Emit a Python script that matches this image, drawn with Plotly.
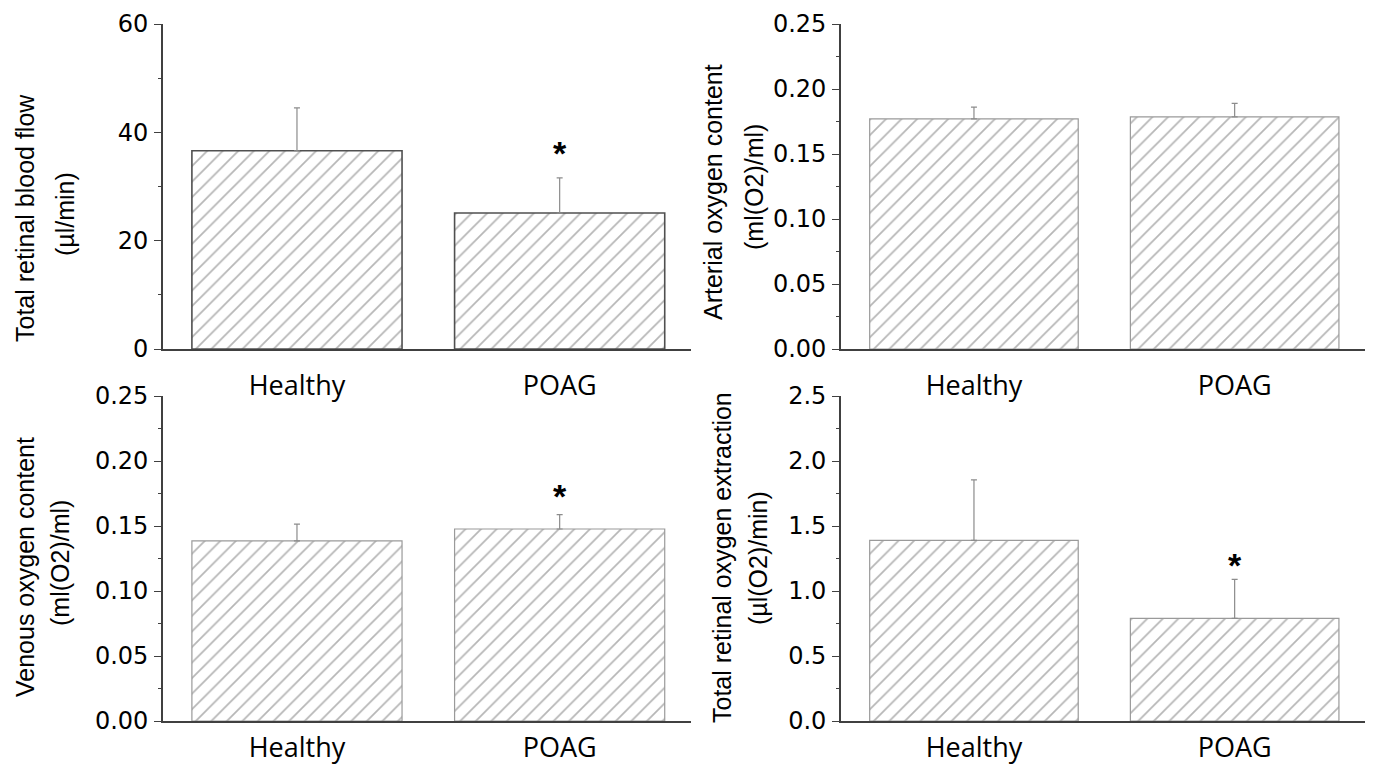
import plotly.graph_objects as go

# ---------------- data ----------------
categories = ["Healthy", "POAG"]

flow_mean = [36.6, 25.1]
flow_sd = [7.9, 6.5]

arterial_mean = [0.177, 0.1785]
arterial_sd = [0.009, 0.0105]

venous_mean = [0.1385, 0.1477]
venous_sd = [0.013, 0.011]

extraction_mean = [1.39, 0.79]
extraction_sd = [0.465, 0.30]

# significance markers (category, y position of the star)
flow_sig = ("POAG", 37.1)
venous_sig = ("POAG", 0.177)
extraction_sig = ("POAG", 1.238)

y_titles = [
    ("Total retinal blood flow", "(\u00b5l/min)"),
    ("Arterial oxygen content", "(ml(O2)/ml)"),
    ("Venous oxygen content", "(ml(O2)/ml)"),
    ("Total retinal oxygen extraction", "(\u00b5l(O2)/min)"),
]
y_ranges = [(0, 60), (0, 0.25), (0, 0.25), (0, 2.5)]
y_dticks = [20, 0.05, 0.05, 0.5]
y_formats = ["d", ".2f", ".2f", ".1f"]

# ---------------- figure ----------------
W, H = 1373, 769
OFF = 8  # page body margin
fig = go.Figure()

panels = [
    (flow_mean, flow_sd, "#505050", 1.6),
    (arterial_mean, arterial_sd, "#9a9a9a", 1.2),
    (venous_mean, venous_sd, "#9a9a9a", 1.2),
    (extraction_mean, extraction_sd, "#9a9a9a", 1.2),
]

for i, (mean, sd, lc, lw) in enumerate(panels):
    ax = "" if i == 0 else str(i + 1)
    fig.add_trace(go.Bar(
        x=categories, y=mean,
        xaxis="x" + ax, yaxis="y" + ax,
        width=0.8,
        marker=dict(
            color="white",
            line=dict(color=lc, width=lw),
            pattern=dict(shape="/", fgcolor="#6e6e6e", bgcolor="white",
                         size=11, solidity=0.16),
        ),
        error_y=dict(type="data", symmetric=False, array=sd,
                     arrayminus=[0] * len(sd),
                     color="#8c8c8c", thickness=1.2, width=3),
        showlegend=False,
    ))

# pixel geometry of plot areas (target screen pixels)
x_doms = [(163, 691), (841, 1365)]
y_doms = [(24, 349), (396, 721)]

def px(v):
    return (v - OFF) / W

def py(v):
    return 1 - (v - OFF) / H

tick_font = dict(family="DejaVu Sans", size=24, color="black")
cat_font = dict(family="Open Sans", size=27, color="black")

layout = dict(
    width=W, height=H, autosize=False,
    margin=dict(l=0, r=0, t=0, b=0),
    paper_bgcolor="white", plot_bgcolor="white",
    bargap=0.2,
)

for i in range(4):
    row, col = divmod(i, 2)
    ax = "" if i == 0 else str(i + 1)
    layout["xaxis" + ax] = dict(
        domain=[px(x_doms[col][0]), px(x_doms[col][1])], anchor="y" + ax,
        range=[-0.51, 1.5], type="category", automargin=False,
        showline=True, linecolor="#404040", linewidth=1.6,
        ticks="", showgrid=False, zeroline=False,
        tickfont=cat_font,
        ticklabelstandoff=12 if row == 0 else 2,
    )
    layout["yaxis" + ax] = dict(
        domain=[py(y_doms[row][1]), py(y_doms[row][0])], anchor="x" + ax,
        range=list(y_ranges[i]), dtick=y_dticks[i], tick0=0,
        tickformat=y_formats[i], automargin=False,
        showline=True, linecolor="#404040", linewidth=1.6,
        ticks="outside", ticklen=7, tickcolor="#404040", tickwidth=1.4,
        minor=dict(ticks="outside", ticklen=3, dtick=y_dticks[i] / 2,
                   tickcolor="#404040", tickwidth=1.2),
        showgrid=False, zeroline=False,
        tickfont=tick_font, ticklabelstandoff=1,
    )

fig.update_layout(**layout)

# y-axis titles (two lines each), positioned in pixels
title_pos = [
    ((25, 218), (65, 214)),
    ((713, 192), (754, 187)),
    ((25, 567), (60, 563)),
    ((722, 558), (758, 558)),
]
for (l1, l2), ((x1, y1), (x2, y2)) in zip(y_titles, title_pos):
    for txt, (tx, ty) in ((l1, (x1, y1)), (l2, (x2, y2))):
        fig.add_annotation(
            text=txt, x=px(tx), y=py(ty), xref="paper", yref="paper",
            textangle=-90, showarrow=False, xanchor="center", yanchor="middle",
            font=dict(family="Liberation Sans", size=25, color="black"),
        )

# significance stars
for (cat, yv), ax in ((flow_sig, ""), (venous_sig, "3"), (extraction_sig, "4")):
    fig.add_annotation(
        text="<b>*</b>", x=cat, y=yv, xref="x" + ax, yref="y" + ax,
        showarrow=False, xanchor="center", yanchor="middle", yshift=-5,
        font=dict(family="Liberation Sans", size=34, color="black"),
    )

fig.write_html("out.html")
